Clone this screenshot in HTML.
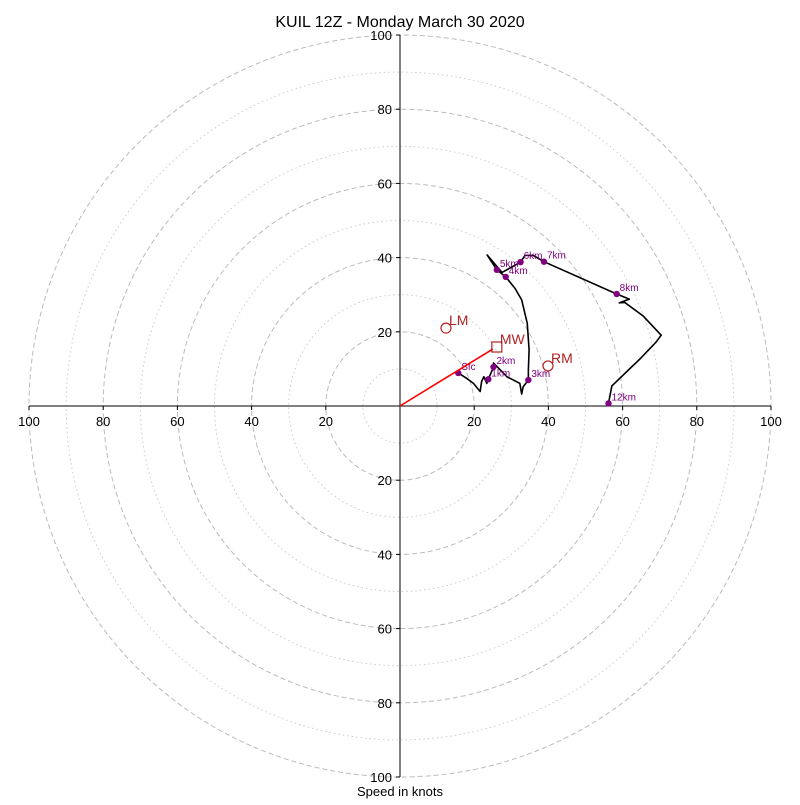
<!DOCTYPE html>
<html><head><meta charset="utf-8"><style>
body{margin:0;background:#fff}
svg text{font-family:"Liberation Sans","DejaVu Sans",sans-serif}
</style></head><body>
<svg id="chart" width="800" height="800" viewBox="0 0 800 800" xmlns="http://www.w3.org/2000/svg">
<rect width="800" height="800" fill="#fff"/>
<text x="400" y="27" text-anchor="middle" font-size="16">KUIL 12Z - Monday March 30 2020</text>
<text x="400" y="796" text-anchor="middle" font-size="13">Speed in knots</text>
<g id="rings"></g><g id="axes"></g><g id="series"></g>
</svg>
<script>
const ringValues=[10,20,30,40,50,60,70,80,90,100];
const tickLabels=[20,40,60,80,100];
const hodoU=[15.7,17.9,19.8,21.6,22.0,22.6,23.4,23.8,25.2,25.2,28.8,32.3,32.8,33.2,34.6,34.6,34.8,34.3,32.8,31.0,28.5,26.1,23.5,27.5,32.5,33.7,35.9,38.8,58.4,61.8,59.1,60.6,65.5,70.4,69.0,64.7,57.1,56.2];
const hodoV=[8.9,7.5,6.1,3.9,6.6,7.9,6.1,7.2,10.5,11.6,7.9,6.1,3.2,5.2,7.0,9.7,15.1,22.3,28.6,31.7,34.8,36.7,40.7,36.0,38.8,40.6,40.6,38.9,30.2,28.8,27.8,27.9,24.3,19.1,17.2,12.7,5.4,0.7];
const levelNames=["Sfc","1km","2km","3km","4km","5km","6km","7km","8km","12km"];
const levelU=[15.7,23.8,25.2,34.6,28.5,26.1,32.5,38.8,58.4,56.2];
const levelV=[8.9,7.2,10.5,7.0,34.8,36.7,38.8,38.9,30.2,0.7];
const motionNames=["LM","RM"];
const motionU=[12.4,39.9];
const motionV=[21.0,10.8];
const meanWind=[26.1,15.9];

const cx=400,cy=406,k=3.71;
const sx=u=>cx+u*k, sy=v=>cy-v*k;
const NS="http://www.w3.org/2000/svg";
function mk(tag,parent,attrs){const e=document.createElementNS(NS,tag);for(const a in attrs)e.setAttribute(a,attrs[a]);parent.appendChild(e);return e;}
const rings=document.getElementById('rings'),axes=document.getElementById('axes'),ser=document.getElementById('series');
ringValues.forEach(r=>{
  const major=r%20===0;
  const c=mk('circle',rings,{cx:cx,cy:cy,r:r*k,fill:'none',stroke:major?'#bbb':'#ccc','stroke-width':1,'stroke-dasharray':major?'5,3':'1.5,3'});
  
  
});
let l=mk('line',axes,{x1:sx(-100),y1:cy,x2:sx(100),y2:cy,stroke:'#000','stroke-width':1});


l=mk('line',axes,{x1:cx,y1:sy(100),x2:cx,y2:sy(-100),stroke:'#000','stroke-width':1});


tickLabels.forEach(t=>{
  [1,-1].forEach(s=>{
    mk('line',axes,{x1:sx(s*t),y1:cy,x2:sx(s*t),y2:cy+4,stroke:'#000'});
    let tx=mk('text',axes,{x:sx(s*t),y:cy+20,'text-anchor':'middle','font-size':13});
    tx.textContent=t;
    
    
    mk('line',axes,{x1:cx-4,y1:sy(s*t),x2:cx,y2:sy(s*t),stroke:'#000'});
    let ty=mk('text',axes,{x:cx-8,y:sy(s*t)+5,'text-anchor':'end','font-size':13});
    ty.textContent=t;
    
    
  });
});
const pl=mk('polyline',ser,{points:hodoU.map((u,i)=>sx(u)+','+sy(hodoV[i])).join(' '),fill:'none',stroke:'#000','stroke-width':1.6,'stroke-linejoin':'round'});


levelNames.forEach((n,i)=>{
  const d=mk('circle',ser,{cx:sx(levelU[i]),cy:sy(levelV[i]),r:3.2,fill:'purple'});
  
  
  const t=mk('text',ser,{x:sx(levelU[i])+3,y:sy(levelV[i])-3,'font-size':10,fill:'purple'});
  t.textContent=n;
  
  
});
const ar=mk('line',ser,{x1:sx(0),y1:sy(0),x2:sx(meanWind[0])-4,y2:sy(meanWind[1])+2,stroke:'red','stroke-width':1.6});


const mw=mk('rect',ser,{x:sx(meanWind[0])-5,y:sy(meanWind[1])-5,width:10,height:10,fill:'none',stroke:'#b22222','stroke-width':1.2});


const mwt=mk('text',ser,{x:sx(meanWind[0])+3,y:sy(meanWind[1])-3,'font-size':14,fill:'#b22222'});
mwt.textContent='MW';


motionNames.forEach((n,i)=>{
  const c=mk('circle',ser,{cx:sx(motionU[i]),cy:sy(motionV[i]),r:5,fill:'none',stroke:'#b22222','stroke-width':1.2});
  
  
  const t=mk('text',ser,{x:sx(motionU[i])+3,y:sy(motionV[i])-3,'font-size':14,fill:'#b22222'});
  t.textContent=n;
  
  
});
</script>
</body></html>
